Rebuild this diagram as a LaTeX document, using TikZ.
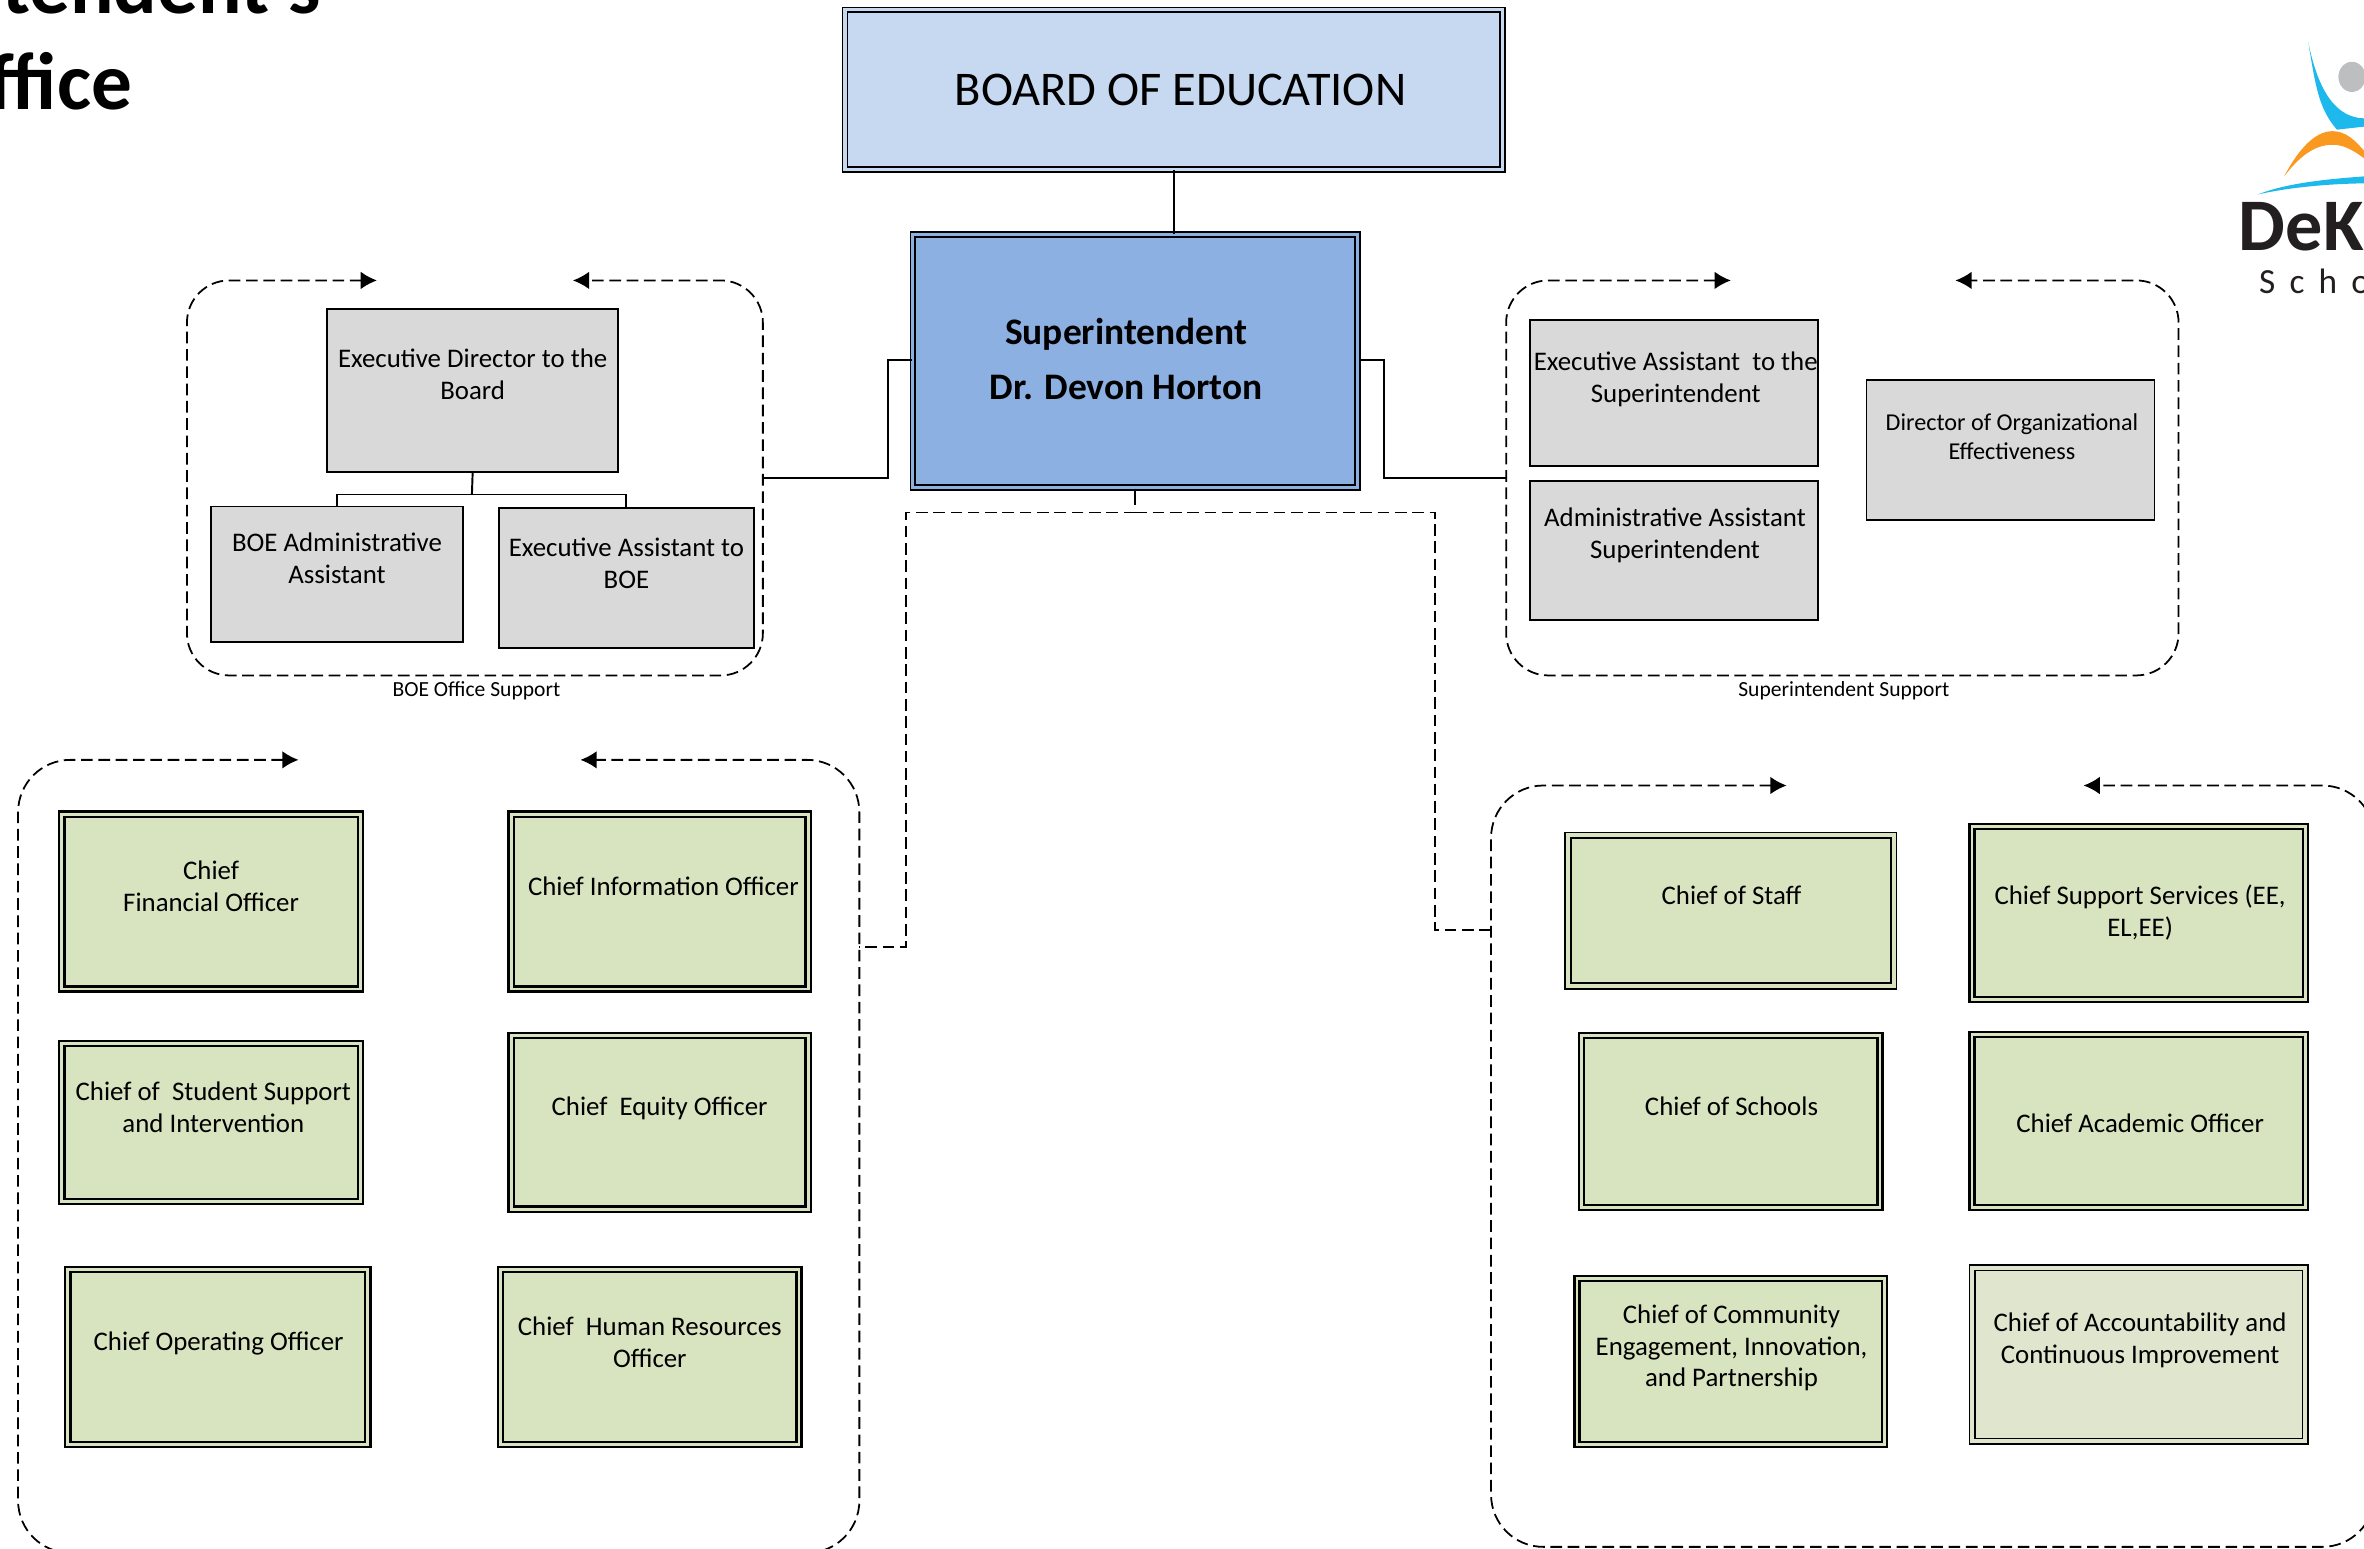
\documentclass[tikz,border=0pt]{standalone}
\usepackage{fontspec}
\setmainfont{Carlito}
\newfontfamily\logoS[LetterSpace=40]{Carlito}
\newfontfamily\logoB[LetterSpace=1]{Carlito}
\usetikzlibrary{arrows.meta}
\definecolor{boardblue}{HTML}{C6D9F1}
\definecolor{supblue}{HTML}{8DB0E3}
\definecolor{boxgray}{HTML}{D9D9D9}
\definecolor{boxgreen}{HTML}{D8E3BF}
\definecolor{boxpale}{HTML}{E0E5CE}
\definecolor{logoblue}{HTML}{1DB8EC}
\definecolor{logoorange}{HTML}{F9991F}
\definecolor{logogray}{HTML}{BCBEC0}
\definecolor{logoink}{HTML}{231F20}
\newcommand{\bx}[9]{%
  \node[#2,minimum width={(#5-#3)*0.015cm},minimum height={(#6-#4)*0.015cm}] (#1) at ({(#3+#5)/2},{(#4+#6)/2}) {};
  \node[boxtext] (#1-t) at (#7,#8) {#9};
}
\newcommand{\dbx}[9]{%
  \node[#2,minimum width={(#5-#3-2)*0.015cm},minimum height={(#6-#4-2)*0.015cm}] (#1) at ({(#3+#5)/2},{(#4+#6)/2}) {};
  \node[boxtext] (#1-t) at (#7,#8) {#9};
}
\tikzset{
  x=0.015cm,y=-0.015cm,
  boxtext/.style={align=center,inner sep=0pt,font=\fontsize{7.6}{9}\selectfont},
  graybox/.style={draw,line width=0.5pt,fill=boxgray,inner sep=0pt},
  greenbox/.style={draw,line width=0.65pt,double=boxgreen,double distance=0.8pt,fill=boxgreen,inner sep=0pt},
  thingreen/.style={draw,line width=0.4pt,double=boxgreen,double distance=1.2pt,fill=boxgreen,inner sep=0pt},
  palebox/.style={draw,line width=0.4pt,double=boxpale,double distance=1.2pt,fill=boxpale,inner sep=0pt},
  boardbox/.style={draw,line width=0.45pt,double=boardblue,double distance=0.9pt,fill=boardblue,inner sep=0pt},
  supbox/.style={draw,line width=0.5pt,double=supblue,double distance=0.9pt,fill=supblue,inner sep=0pt},
  link/.style={draw,line width=0.55pt},
  dashlink/.style={draw,line width=0.5pt,dash pattern=on 3.3pt off 1.6pt},
  groupline/.style={draw,line width=0.5pt,dash pattern=on 3.3pt off 1.6pt,{Latex[length=4.6pt,width=5pt]}-{Latex[length=4.6pt,width=5pt]}},
  capnote/.style={inner sep=0pt,font=\fontsize{6.1}{7}\selectfont},
  titletext/.style={anchor=base east,inner sep=0pt,font=\fontsize{23}{26}\selectfont\bfseries},
}
\begin{document}
\begin{tikzpicture}
\useasboundingbox (0,0) rectangle (1568,1027);
\clip (0,0) rectangle (1568,1027);

% title (cropped by the page)
\node[titletext] (title1) at (213,9) {tendent's};
\node[titletext] (title2) at (88,72.5) {ffice};

% logo
\fill[logoblue] (1531,28) .. controls (1536,58) and (1538,72) .. (1550,86) -- (1568,84) -- (1568,78.5) .. controls (1550,78) and (1538,62) .. (1531,28) -- cycle;
\fill[logogray] (1560,51) ellipse (9 and 10);
\fill[logoorange] (1515,117) .. controls (1525,98) and (1536,87) .. (1547,87) .. controls (1556,87) and (1562,93) .. (1568,100) -- (1568,105) .. controls (1560,99) and (1554,96) .. (1547,96) .. controls (1535,96) and (1525,104) .. (1515,117) -- cycle;
\fill[logoblue] (1497.5,129) .. controls (1515,122) and (1540,119) .. (1568,117) -- (1568,121.6) .. controls (1540,122) and (1515,125) .. (1497.5,129) -- cycle;
\node[anchor=base west,inner sep=0pt,text=logoink,font=\fontsize{21}{24}\selectfont\logoB\bfseries] (logo1) at (1484,166) {DeKa};
\node[anchor=base west,inner sep=0pt,text=logoink,font=\fontsize{10}{12}\selectfont\logoS] (logo2) at (1498,194.6) {Scho};

% dashed groups
\draw[groupline,rounded corners=0.42cm] (250,186) -- (124,186) -- (124,448) -- (506,448) -- (506,186) -- (380,186);
\draw[groupline,rounded corners=0.42cm] (1148,186) -- (999,186) -- (999,448) -- (1445,448) -- (1445,186) -- (1297,186);
\draw[groupline,rounded corners=0.52cm] (198,504) -- (12,504) -- (12,1030) -- (570,1030) -- (570,504) -- (385,504);
\draw[groupline,rounded corners=0.52cm] (1185,521) -- (989,521) -- (989,1026) -- (1575,1026) -- (1575,521) -- (1382,521);

\node[capnote] (capA) at (316,458) {BOE Office Support};
\node[capnote] (capB) at (1223,458) {Superintendent Support};

% top boxes
\node[boardbox,minimum width={436*0.015cm},minimum height={106*0.015cm}] (board) at (778.5,59.5) {};
\node[inner sep=0pt,font=\fontsize{13.7}{15}\selectfont] (board-t) at (783,60) {BOARD OF EDUCATION};
\node[supbox,minimum width={295*0.015cm},minimum height={168*0.015cm}] (sup) at (753,239.5) {};
\node[boxtext,font=\fontsize{10.6}{15.4}\selectfont\bfseries] (sup-t) at (747,238) {Superintendent\\Dr. Devon Horton};

% gray boxes
\bx{ed}{graybox}{217}{205}{410}{313}{313.5}{248.5}{Executive Director to the\\Board}
\bx{adm}{graybox}{140}{336}{307}{426}{223.5}{370.5}{BOE Administrative\\Assistant}
\bx{ea}{graybox}{331}{337}{500}{430}{415.5}{373.5}{Executive Assistant to\\BOE}
\bx{eas}{graybox}{1015}{212}{1206}{309}{1111.5}{251.5}{Executive Assistant\ \ to the\\Superintendent}
\bx{aas}{graybox}{1015}{319}{1206}{411}{1111}{355}{Administrative Assistant\\Superintendent}
\node[graybox,minimum width={191*0.015cm},minimum height={93*0.015cm}] (doe) at (1333.5,298.5) {};
\node[boxtext,font=\fontsize{6.85}{8.2}\selectfont] (doe-t) at (1334.5,289.5) {Director of Organizational\\Effectiveness};

% left green boxes
\dbx{cfo}{greenbox}{40}{539}{240}{657}{140}{588}{Chief\\Financial Officer}
\dbx{cio}{greenbox}{338}{539}{537}{657}{440}{588}{Chief Information Officer}
\dbx{csi}{greenbox}{40}{691}{240}{798}{141.5}{734.5}{Chief of\ \ Student Support\\and Intervention}
\dbx{ceo}{greenbox}{338}{686}{537}{803}{437.5}{735}{Chief\ \ Equity Officer}
\dbx{coo}{greenbox}{44}{841}{245}{959}{145}{891}{Chief Operating Officer}
\dbx{hr}{greenbox}{331}{841}{531}{959}{431}{890.5}{Chief\ \ Human Resources\\Officer}

% right green boxes
\dbx{staff}{thingreen}{1039}{553}{1257}{655}{1148.5}{594}{Chief of Staff}
\dbx{css}{greenbox}{1307}{547}{1530}{664}{1419.5}{605.5}{Chief Support Services (EE,\\EL,EE)}
\dbx{sch}{greenbox}{1048}{686}{1248}{802}{1148.5}{734}{Chief of Schools}
\dbx{aca}{greenbox}{1307}{685}{1530}{802}{1419.5}{745}{Chief Academic Officer}
\dbx{com}{greenbox}{1045}{847}{1251}{959}{1148.5}{894}{Chief of Community\\Engagement, Innovation,\\and Partnership}
\dbx{acc}{palebox}{1307}{840}{1530}{957}{1419.5}{889}{Chief of Accountability and\\Continuous Improvement}

% named connector ends
\coordinate (boeport) at (506,317);
\coordinate (support) at (999,317);
\coordinate (dropA) at (570,628);
\coordinate (dropB) at (989,617);
\coordinate (dropmid) at (753,340);
\coordinate (dropstub) at (753,335);
\coordinate (edbar) at (313,328);

% connectors
\draw[link] (board.south) -- (board.south |- sup.north);
\draw[link] (sup.west |- 0,239) -- (589,239) -- (589,317) -- (boeport);
\draw[link] (sup.east |- 0,239) -- (918,239) -- (918,317) -- (support);
\draw[link] (sup.south) -- (dropstub);
\draw[dashlink] (dropmid) -- (601,340) -- (601,628) -- (dropA);
\draw[dashlink] (dropmid) -- (952,340) -- (952,617) -- (dropB);
\draw[link] (ed.south) -- (edbar);
\draw[link] (adm.north) -- (adm.north |- edbar) -- (ea.north |- edbar) -- (ea.north);
\end{tikzpicture}
\end{document}
